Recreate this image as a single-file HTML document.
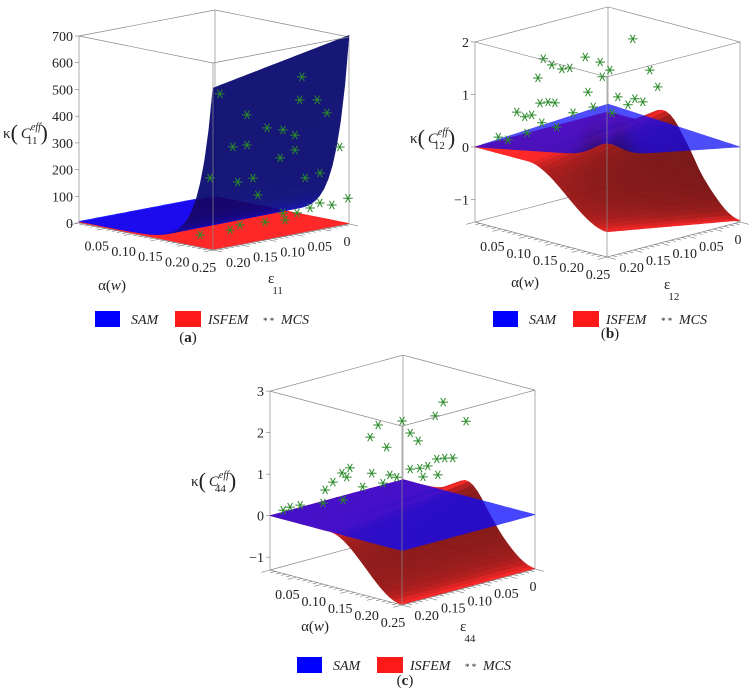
<!DOCTYPE html>
<html><head><meta charset="utf-8"><style>
html,body{margin:0;padding:0;background:#fff}
svg{display:block}
text{font-family:"Liberation Serif",serif;fill:#222}
</style></head><body>
<svg id="fig" xmlns="http://www.w3.org/2000/svg" width="749" height="699" viewBox="0 0 749 699">
<rect width="749" height="699" fill="#fff"/>
<g id="pa"></g>
<g id="pb"></g>
<g id="pc"></g>
</svg>
<script>
// ---- data: axis ticks ----
const alphaTicks=[0.05,0.10,0.15,0.20,0.25];
const epsTicks=[0,0.05,0.10,0.15,0.20];
const zTicksA=[0,100,200,300,400,500,600,700];
const zTicksB=[-1,0,1,2];
const zTicksC=[-1,0,1,2,3];
// ---- data: MCS points panel a ----
const mcsAalpha=[0.22,0.22,0.22,0.22,0.22,0.22,0.22,0.22,0.22,0.22,0.22,0.22,0.22,0.22,0.22,0.22,0.22,0.25,0.22,0.22,0.22,0.22,0.25,0.22,0.22,0.22,0.22,0.22,0.22,0.22,0.22];
const mcsAeps=[0.208,0.158,0.121,0.057,0.061,0.029,0.011,0.092,0.070,0.184,0.158,0.097,0.070,0.175,0.147,0.051,0.024,0.017,0.226,0.138,0.024,0.002,0.002,0.042,0.066,0.092,0.171,0.125,0.189,0.244,0.088];
const mcsAkappa=[556,458,395,561,476,464,408,376,348,348,345,273,292,213,217,180,188,295,248,150,76,60,97,64,55,65,51,44,39,42,37];
// ---- data: MCS points panel b ----
const mcsBalpha=[0.1,0.1,0.1,0.1,0.1,0.1,0.2,0.1,0.1,0.2,0.2,0.2,0.1,0.1,0.1,0.1,0.05,0.05,0.05,0.2,0.2,0.2,0.2,0.1,0.1,0.03,0.03,0.05,0.05,0.1,0.2];
const mcsBeps=[0.142,0.221,0.205,0.186,0.171,0.114,0.195,0.110,0.231,0.152,0.120,0.105,0.137,0.227,0.212,0.199,0.221,0.206,0.193,0.180,0.148,0.133,0.161,0.165,0.127,0.236,0.218,0.202,0.174,0.196,0.191];
const mcsBkappa=[1.69,1.87,1.71,1.58,1.56,1.52,1.85,1.23,1.53,2.33,1.65,1.29,1.01,1.04,1.02,0.97,0.72,0.59,0.59,1.30,1.18,1.08,1.10,0.69,0.70,0.23,0.13,0.27,0.39,0.50,1.02];
// ---- data: MCS points panel c ----
const mcsCalpha=[0.2,0.2,0.2,0.1,0.1,0.1,0.2,0.2,0.1,0.2,0.2,0.2,0.2,0.2,0.2,0.1,0.1,0.1,0.1,0.1,0.1,0.1,0.05,0.2,0.2,0.1,0.1,0.05,0.05,0.03,0.03,0.02];
const mcsCeps=[0.123,0.138,0.080,0.101,0.146,0.161,0.185,0.170,0.130,0.120,0.135,0.105,0.152,0.167,0.185,0.158,0.124,0.111,0.199,0.214,0.205,0.231,0.196,0.133,0.161,0.137,0.175,0.162,0.200,0.223,0.242,0.245];
const mcsCkappa=[2.97,2.69,2.36,2.10,2.16,1.92,2.44,2.20,1.57,1.61,1.64,1.56,1.53,1.53,1.57,1.04,0.88,0.78,1.31,1.24,1.11,1.08,0.60,1.25,1.30,0.73,0.77,0.24,0.30,0.26,0.28,0.18];

const NS='http://www.w3.org/2000/svg';
function mk(tag,attrs,parent){const e=document.createElementNS(NS,tag);for(const k in attrs)e.setAttribute(k,attrs[k]);parent.appendChild(e);return e;}
function sstep(t){t=Math.max(0,Math.min(1,t));return t*t*(3-2*t);}

const panels=[
 {g:'pa',tag:'a',sub:'11',back:[215,197],av:[134,27],ev:[-136,26],zmin:0,zmax:700,k:187/700,zt:zTicksA,
  sam:(u,v)=>6+(700-100*v)*Math.exp(10*(u-1)),isf:(u,v)=>2,samOp:0.92,
  ma:mcsAalpha,me:mcsAeps,mk:mcsAkappa,
  kap:[3,138],alab:[112,290],elab:[268,283],leg:[95,311],plab:[188,342]},
 {g:'pb',tag:'b',sub:'12',back:[608,187],av:[132,35],ev:[-133,35],zmin:-1.43,zmax:2,k:52.5,zt:zTicksB,
  sam:(u,v)=>0.5*u*v+0.15*(1-u)*(1-v)+0.12*Math.exp(-Math.pow((u-v)/0.15,2))*Math.min(u,v)*2,
  isf:(u,v)=>sstep((u-0.4)/0.6)*(-0.95-0.45*(1-v))+0.55*Math.exp(-Math.pow((u-0.55)/0.2,2))*(1-v)*(v>0.05?1:v/0.05),
  samOp:0.72,ma:mcsBalpha,me:mcsBeps,mk:mcsBkappa,
  kap:[410,143],alab:[525,287],elab:[664,289],leg:[493,311],plab:[610,338]},
 {g:'pc',tag:'c',sub:'44',back:[403,534],av:[132,35],ev:[-133,36],zmin:-1.31,zmax:3,k:41.5,zt:zTicksC,
  sam:(u,v)=>0,
  isf:(u,v)=>-1.3*sstep((u-0.45)/0.55)+0.4*Math.exp(-Math.pow((u-0.5)/0.15,2))*(1-v),
  samOp:0.75,ma:mcsCalpha,me:mcsCeps,mk:mcsCkappa,
  kap:[191,486],alab:[315,631],elab:[460,631],leg:[297,657],plab:[405,685]}
];

panels.forEach(c=>{
 const g=document.getElementById(c.g);
 const P=(a,e,z)=>[c.back[0]+a/0.25*c.av[0]+e/0.25*c.ev[0], c.back[1]+a/0.25*c.av[1]+e/0.25*c.ev[1]-(z-c.zmin)*c.k];
 const line=(p,q,name,col,w)=>{const l=mk('line',{x1:p[0],y1:p[1],x2:q[0],y2:q[1],stroke:col||'#8a8a8a','stroke-width':w||0.7},g);return l;};
 const zt=c.zmax,zb=c.zmin;
 line(P(0,0,zb),P(0,0,zt),'box-edge-back');
 line(P(0,0,zb),P(0,0.25,zb),'box-edge');
 line(P(0,0,zb),P(0.25,0,zb),'box-edge');
 line(P(0,0,zt),P(0,0.25,zt),'box-edge');
 line(P(0,0,zt),P(0.25,0,zt),'box-edge');
 line(P(0,0.25,zb),P(0,0.25,zt),'z-axis-line');
 line(P(0.25,0,zb),P(0.25,0,zt),'box-edge');
 // surfaces: red first, then translucent blue on top
 const N=32;
 const surf=[{f:c.isf,col:[255,30,30],op:0.95,name:'isfem-surface',cell:'isfem-surface-cell'},{f:c.sam,col:[10,10,255],op:c.samOp,name:'sam-surface',cell:'sam-surface-cell'}];
 surf.forEach(s=>{
  const sg=mk('g',{opacity:s.op},g);
  
  
  const quads=[];
  for(let i=0;i<N;i++)for(let j=0;j<N;j++){
   const u0=i/N,u1=(i+1)/N,v0=j/N,v1=(j+1)/N;
   const z00=s.f(u0,v0),z10=s.f(u1,v0),z11=s.f(u1,v1),z01=s.f(u0,v1);
   const R=c.zmax-c.zmin;
   const gu=((z10+z11)-(z00+z01))/2/R*N, gv=((z01+z11)-(z00+z10))/2/R*N;
   const fac=1/Math.sqrt(1+Math.pow(gu*2.2,2)+Math.pow(gv*2.2,2));
   const sh=0.42+0.58*fac*fac;
   quads.push({key:u0+v0,pts:[P(u0*.25,v0*.25,z00),P(u1*.25,v0*.25,z10),P(u1*.25,v1*.25,z11),P(u0*.25,v1*.25,z01)],
     col:'rgb('+s.col.map(x=>Math.round(x*sh)).join(',')+')'});
  }
  quads.sort((p,q)=>p.key-q.key);
  quads.forEach(q=>{
   const p=mk('polygon',{points:q.pts.map(t=>t[0].toFixed(1)+','+t[1].toFixed(1)).join(' '),fill:q.col,stroke:q.col,'stroke-width':0.6,'stroke-linejoin':'round'},sg);
   
   
  });
 });
 // MCS stars
 const mg=mk('g',{stroke:'#2a8a2a','stroke-width':1},g);
 
 
 for(let i=0;i<c.ma.length;i++){
  const p=P(c.ma[i],c.me[i],c.mk[i]);const r=4.8;
  const d='M'+(p[0]-r)+','+p[1]+'h'+2*r+'M'+(p[0]-r*0.5)+','+(p[1]-r*0.87)+'l'+r+','+(r*1.73)+'M'+(p[0]+r*0.5)+','+(p[1]-r*0.87)+'l'+(-r)+','+(r*1.73);
  const s=mk('path',{d:d,fill:'none'},mg);
  
  
 }
 line(P(0.25,0.25,zb),P(0.25,0.25,zt),'box-edge-front');
 line(P(0,0.25,zb),P(0.25,0.25,zb),'alpha-axis-line');
 line(P(0.25,0,zb),P(0.25,0.25,zb),'eps-axis-line');
 line(P(0,0.25,zt),P(0.25,0.25,zt),'box-edge');
 line(P(0.25,0,zt),P(0.25,0.25,zt),'box-edge');
 const he=Math.hypot(c.ev[0],c.ev[1]), ha=Math.hypot(c.av[0],c.av[1]);
 for(let t=0;t<=25;t++){
  const p=P(t/100,0.25,zb),len=(t%5==0)?9:5;
  line(p,[p[0]+c.ev[0]/he*len,p[1]+c.ev[1]/he*len],'alpha-tick','#777',0.6);
 }
 for(let t=0;t<=25;t++){
  const p=P(0.25,t/100,zb),len=(t%5==0)?9:5;
  line(p,[p[0]+c.av[0]/ha*len,p[1]+c.av[1]/ha*len],'eps-tick','#777',0.6);
 }
 alphaTicks.forEach(a=>{const p=P(a,0.25,zb);const t=mk('text',{x:p[0]-9,y:p[1]+22,'font-size':14,'text-anchor':'middle'},g);t.textContent=a.toFixed(2);});
 epsTicks.forEach(e=>{const p=P(0.25,e,zb);const t=mk('text',{x:p[0]-2,y:p[1]+22,'font-size':14,'text-anchor':'middle'},g);t.textContent=e==0?'0':e.toFixed(2);});
 c.zt.forEach(z=>{const p=P(0,0.25,z);line(p,[p[0]-4,p[1]],'z-tick','#777',0.6);const t=mk('text',{x:p[0]-6,y:p[1]+5,'font-size':14,'text-anchor':'end'},g);t.textContent=z<0?'\u2212'+(-z):String(z);});
 const kt=mk('text',{x:c.kap[0],y:c.kap[1],'font-size':15},g);
 
 
 kt.innerHTML='κ<tspan font-size="22" dy="2">(</tspan><tspan font-style="italic" dy="-2" dx="3">C</tspan><tspan font-size="10" font-style="italic" dy="-8">eff</tspan><tspan font-size="11" dx="-14" dy="14">'+c.sub+'</tspan><tspan font-size="22" dy="-4" dx="3">)</tspan>';
 const at=mk('text',{x:c.alab[0],y:c.alab[1],'font-size':15,'text-anchor':'middle'},g);
 
 
 at.innerHTML='α(<tspan font-style="italic">w</tspan>)';
 const et=mk('text',{x:c.elab[0],y:c.elab[1],'font-size':15},g);
 
 
 et.innerHTML='ε<tspan font-size="11" dy="11" dx="-2">'+c.sub+'</tspan>';
 const L=c.leg;
 const lg=mk('g',{},g);
 
 
 const r1=mk('rect',{x:L[0],y:L[1],width:25,height:16,fill:'#0000ff'},lg);
 const t1=mk('text',{x:L[0]+36,y:L[1]+13,'font-size':14,'font-style':'italic'},lg);t1.textContent='SAM';
 const r2=mk('rect',{x:L[0]+80,y:L[1],width:26,height:16,fill:'#ff1a1a'},lg);
 const t2=mk('text',{x:L[0]+113,y:L[1]+13,'font-size':14,'font-style':'italic'},lg);t2.textContent='ISFEM';
 const t3=mk('text',{x:L[0]+168,y:L[1]+13,'font-size':9,fill:'#3a9a3a'},lg);t3.textContent='* *';
 const t4=mk('text',{x:L[0]+186,y:L[1]+13,'font-size':14,'font-style':'italic'},lg);t4.textContent='MCS';
 const pl=mk('text',{x:c.plab[0],y:c.plab[1],'font-size':15,'text-anchor':'middle'},g);
 
 
 pl.innerHTML='(<tspan font-weight="bold">'+c.tag+'</tspan>)';
});
</script>
</body></html>
